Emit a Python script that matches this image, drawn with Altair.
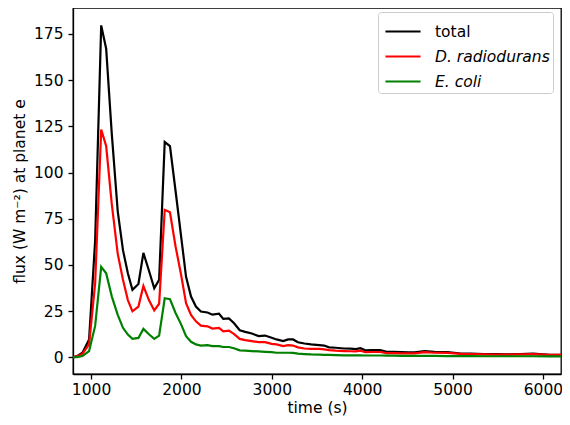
import altair as alt
import pandas as pd

time_s = [800, 857, 905, 978, 1045, 1112, 1167, 1229, 1295, 1353,
          1407, 1458, 1524, 1579, 1640, 1699, 1753, 1815, 1873, 1935,
          1995, 2051, 2106, 2160, 2215, 2288, 2343, 2416, 2463, 2525,
          2580, 2645, 2706, 2779, 2853, 2925, 2998, 3052, 3126, 3180,
          3235, 3289, 3361, 3434, 3525, 3580, 3634, 3707, 3798, 3871,
          3930, 3980, 4035, 4108, 4199, 4272, 4350, 4436, 4510, 4581,
          4690, 4799, 4945, 5091, 5200, 5345, 5470, 5600, 5750, 5891,
          6073, 6200]

total = [0, 1, 2.5, 9.7, 63, 179.6, 167, 121, 79, 58,
         45.5, 36.5, 39.7, 56.5, 47, 37.4, 41.9, 116.5, 114.3, 90,
         66, 43.6, 32.9, 27.5, 24.8, 24.3, 23.1, 23.6, 20.8, 21.1,
         18.6, 14.7, 13.8, 12.9, 11.5, 11.8, 10.6, 9.7, 8.8, 9.7,
         9.7, 8.2, 7.5, 7.0, 6.6, 6.4, 5.4, 5.2, 4.8, 4.7,
         4.5, 5.0, 3.8, 3.9, 3.9, 3.0, 3.0, 2.8, 2.7, 2.7,
         3.4, 3.0, 2.8, 2.1, 2.0, 1.8, 1.7, 1.6, 1.8, 2.0,
         1.4, 1.4]

d_radiodurans = [0, 0.8, 2, 7, 40, 123.3, 114.3, 83, 56, 42,
                 31, 24.9, 27.5, 38.6, 31, 25.4, 29, 79.8, 78.5, 60,
                 45, 29.3, 23, 19.5, 17.2, 16.8, 15.6, 15.9, 14.1, 14.5,
                 12.7, 10, 9.3, 8.8, 8.2, 8.2, 7.3, 7.0, 6.1, 6.6,
                 6.4, 5.4, 4.8, 4.6, 4.6, 4.3, 3.9, 3.6, 3.4, 3.3,
                 3.2, 3.6, 2.8, 2.9, 2.9, 2.3, 2.3, 2.2, 2.2, 2.2,
                 2.8, 2.5, 2.4, 1.9, 1.8, 1.6, 1.5, 1.5, 1.6, 1.8,
                 1.3, 1.3]

e_coli = [0, 0.3, 0.8, 3.4, 17, 49, 45.5, 33, 23, 16,
          12.3, 10, 10.5, 15.4, 12.5, 10, 11.8, 32, 31.5, 24,
          18, 11.5, 8.4, 7, 6.4, 6.6, 6.1, 6.1, 5.6, 5.6,
          4.9, 3.8, 3.6, 3.4, 3.2, 3.0, 2.8, 2.5, 2.5, 2.5,
          2.4, 2.0, 1.8, 1.6, 1.5, 1.4, 1.3, 1.2, 1.1, 1.1,
          1.1, 1.1, 1.0, 1.0, 1.0, 0.9, 0.9, 0.8, 0.8, 0.8,
          0.8, 0.8, 0.7, 0.7, 0.7, 0.6, 0.6, 0.6, 0.6, 0.6,
          0.5, 0.5]

series_names = ["total", "D. radiodurans", "E. coli"]
series_colors = ["#000000", "#ff0000", "#008000"]

rows = []
for name, vals in zip(series_names, [total, d_radiodurans, e_coli]):
    for t, v in zip(time_s, vals):
        rows.append({"time": t, "flux": v, "series": name})
df = pd.DataFrame(rows)

FONT = "DejaVu Sans"
FS = 15.5

chart = alt.Chart(df).mark_line(strokeWidth=2.2, clip=True).encode(
    x=alt.X("time:Q",
            scale=alt.Scale(domain=[800, 6200], nice=False, zero=False),
            axis=alt.Axis(title="time (s)", values=[1000, 2000, 3000, 4000, 5000, 6000],
                          format="d", titlePadding=3, labelPadding=3)),
    y=alt.Y("flux:Q",
            scale=alt.Scale(domain=[-9, 189], nice=False, zero=False),
            axis=alt.Axis(title="flux (W m⁻²) at planet e",
                          values=[0, 25, 50, 75, 100, 125, 150, 175],
                          titlePadding=6, labelPadding=5)),
    color=alt.Color("series:N",
                    scale=alt.Scale(domain=series_names, range=series_colors),
                    legend=alt.Legend(
                        title=None, orient="none", legendX=305, legendY=4,
                        symbolType="M-1.17,0H1.17", symbolSize=900, symbolStrokeWidth=2.2,
                        symbolOffset=5.5,
                        labelFontSize=FS, labelFont=FONT, labelColor="black",
                        labelFontStyle=alt.ExprRef(expr="datum.label == 'total' ? 'normal' : 'italic'"),
                        labelOffset=15.5, rowPadding=0, padding=3,
                        strokeColor="#cccccc", fillColor="white", cornerRadius=3)),
    order=alt.Order("time:Q"),
    detail="series:N",
).properties(
    width=488, height=366,
    autosize=alt.AutoSizeParams(type="none"),
    padding={"left": 65, "top": 0, "right": 1, "bottom": 44},
).configure_view(
    stroke="black", strokeWidth=1.3
).configure_axis(
    grid=False, domainColor="black", domainWidth=1.3, tickColor="black", tickWidth=1.3,
    tickSize=5, labelFont=FONT, labelFontSize=FS, labelColor="black",
    titleFont=FONT, titleFontSize=FS, titleFontWeight="normal", titleColor="black",
)

chart.save("out.html", embed_options={"renderer": "svg", "actions": False})
